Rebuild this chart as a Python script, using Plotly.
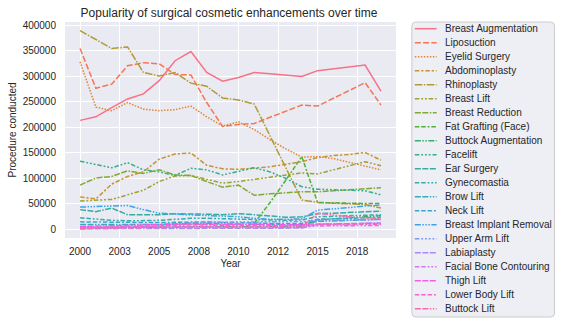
import math
import itertools
import plotly.graph_objects as go

# ---------------- data ----------------
years = list(range(2000, 2020))

procedures = [
    "Breast Augmentation", "Liposuction", "Eyelid Surgery", "Abdominoplasty",
    "Rhinoplasty", "Breast Lift", "Breast Reduction", "Fat Grafting (Face)",
    "Buttock Augmentation", "Facelift", "Ear Surgery", "Gynecomastia",
    "Brow Lift", "Neck Lift", "Breast Implant Removal", "Upper Arm Lift",
    "Labiaplasty", "Facial Bone Contouring", "Thigh Lift", "Lower Body Lift",
    "Buttock Lift",
]

breast_augmentation = [213000, 220000, 238000, 255000, 265000, 291000, 330000, 348000, 307000, 290000,
                       297000, 307000, 304500, 302000, 299000, 310500, 314000, 318000, 321500, 270500]
liposuction = [354000, 276000, 284000, 320000, 326000, 324000, 303000, 302000, 248000, 201000,
               205000, 207000, 219000, 231000, 243000, 241000, 256000, 271000, 287000, 243000]
eyelid_surgery = [328000, 239000, 232000, 248000, 235000, 232000, 234000, 241000, 220000, 202000,
                  210000, 195000, 175000, 157000, 141000, 142000, 138000, 131000, 124000, 116000]
abdominoplasty = [63000, 59000, 88000, 103000, 112000, 137000, 147000, 149000, 125000, 118000,
                  117000, 119000, 122000, 127000, 132000, 140000, 144000, 146000, 150000, 135000]
rhinoplasty = [389000, 372000, 354000, 357000, 307000, 300000, 307000, 286000, 280000, 257000,
               253000, 245000, 183000, 120000, 57000, 52000, 51000, 50000, 48000, 41000]
breast_lift = [55000, 57000, 58000, 67000, 76000, 93000, 104000, 105000, 97000, 90000,
               93000, 97000, 101000, 106000, 110000, 108000, 116000, 124000, 132000, 124000]
breast_reduction = [86000, 100000, 103000, 114000, 109000, 116000, 106000, 105000, 93000, 82000,
                    86000, 66000, 69000, 71000, 73000, 73000, 75000, 77000, 80000, 81000]
fat_grafting_face = [None, None, None, None, None, None, None, None, None, None,
                     None, 11000, 52000, 96000, 142000, 52000, 51000, 51000, 50000, 50000]
buttock_augmentation = [2000, 2500, 3000, 3500, 4000, 4000, 4500, 4500, 4000, 4000,
                        4000, 4000, 4500, 5000, 5500, 18000, 20000, 22000, 24000, 26000]
facelift = [133000, 127000, 120000, 130000, 116000, 112000, 105000, 119000, 116000, 106000,
            113000, 120000, 112000, 99000, 83000, 78000, 77000, 76000, 75000, 67000]
ear_surgery = [38000, 34000, 41000, 28000, 28000, 28000, 30000, 30000, 29000, 28000,
               30000, 28000, 25000, 23000, 24000, 30000, 31000, 32000, 34000, 35000]
gynecomastia = [22000, 19000, 17000, 16000, 16000, 17000, 19000, 21000, 21000, 20000,
                20000, 19000, 18000, 17000, 18000, 24000, 25000, 26000, 27000, 28000]
brow_lift = [9000, 9000, 8500, 8000, 8000, 9000, 10000, 11000, 11000, 10000,
             10000, 9500, 9000, 8500, 8500, 15000, 16000, 17000, 18000, 19000]
neck_lift = [14000, 13500, 13000, 12500, 12000, 12500, 13000, 14000, 14000, 13000,
             13000, 12000, 11000, 11000, 11000, 19000, 20000, 21000, 22000, 23000]
breast_implant_removal = [43000, 44000, 45000, 46000, 38000, 31000, 29000, 28000, 27000, 26000,
                          24000, 21000, 19000, 19000, 20000, 37000, 39000, 42000, 45000, 47000]
upper_arm_lift = [300, 1000, 2000, 3000, 4500, 6000, 9000, 12000, 13000, 13500,
                  14000, 14500, 14500, 14500, 14500, 17000, 17500, 18000, 18000, 18500]
labiaplasty = [500, 500, 600, 700, 800, 900, 1000, 1100, 1200, 1300,
               1400, 1500, 1600, 1700, 1800, 9000, 10000, 11000, 11500, 12000]
facial_bone_contouring = [4500, 4500, 4500, 4500, 4500, 5000, 5000, 5000, 5000, 4500,
                          4500, 4500, 4500, 4000, 4000, 6000, 6000, 6500, 6500, 7000]
thigh_lift = [5000, 5500, 6000, 6500, 7000, 8500, 9500, 10000, 9500, 9000,
              8500, 8500, 8500, 8500, 8500, 10000, 10000, 10500, 10500, 11000]
lower_body_lift = [2000, 2500, 3000, 3500, 4500, 6000, 7000, 8000, 7500, 7000,
                   6500, 6500, 6500, 6500, 6500, 8500, 9000, 9000, 9500, 9500]
buttock_lift = [1000, 1200, 1500, 2000, 2500, 3000, 3500, 4000, 4000, 3500,
                3500, 3500, 3500, 3500, 3500, 31000, 27000, 24000, 22000, 21000]

series_values = [
    breast_augmentation, liposuction, eyelid_surgery, abdominoplasty, rhinoplasty,
    breast_lift, breast_reduction, fat_grafting_face, buttock_augmentation, facelift,
    ear_surgery, gynecomastia, brow_lift, neck_lift, breast_implant_removal,
    upper_arm_lift, labiaplasty, facial_bone_contouring, thigh_lift, lower_body_lift,
    buttock_lift,
]

x_tick_vals = [2000, 2002.5, 2005, 2007.5, 2010, 2012.5, 2015, 2017.5]
x_tick_text = ["2000", "2003", "2005", "2008", "2010", "2012", "2015", "2018"]
y_tick_vals = [0, 50000, 100000, 150000, 200000, 250000, 300000, 350000, 400000]
y_tick_text = [str(v) for v in y_tick_vals]

# ---------------- style helpers (seaborn husl palette + dashes) ----------------
_M = [[3.2406, -1.5372, -0.4986], [-0.9689, 1.8758, 0.0415], [0.0557, -0.2040, 1.0570]]
_refU, _refV = 0.19784, 0.46834


def _max_chroma(L, H):
    hrad = math.radians(H)
    sinH, cosH = math.sin(hrad), math.cos(hrad)
    sub1 = math.pow(L + 16, 3.0) / 1560896.0
    sub2 = sub1 if sub1 > 0.008856 else (L / 903.3)
    result = float("inf")
    for m1, m2, m3 in _M:
        top = (0.99915 * m1 + 1.05122 * m2 + 1.14460 * m3) * sub2
        rbottom = 0.86330 * m3 - 0.17266 * m2
        lbottom = 0.12949 * m3 - 0.38848 * m1
        bottom = (rbottom * sinH + lbottom * cosH) * sub2
        for t in (0.0, 1.0):
            C = L * (top - 1.05122 * t) / (bottom + 0.17266 * sinH * t)
            if 0.0 < C < result:
                result = C
    return result


def _husl_to_rgb(h, s, l):
    C = _max_chroma(l, h) / 100.0 * s
    U = C * math.cos(math.radians(h))
    V = C * math.sin(math.radians(h))
    t = (l + 16.0) / 116.0
    Y = t ** 3 if t ** 3 > 0.008856 else (116.0 * t - 16.0) / 903.3
    varU = U / (13.0 * l) + _refU
    varV = V / (13.0 * l) + _refV
    X = 0.0 - (9.0 * Y * varU) / ((varU - 4.0) * varV - varU * varV)
    Z = (9.0 * Y - (15.0 * varV * Y) - (varV * X)) / (3.0 * varV)
    out = []
    for row in _M:
        c = row[0] * X + row[1] * Y + row[2] * Z
        c = 12.92 * c if c <= 0.0031308 else 1.055 * math.pow(c, 1 / 2.4) - 0.055
        out.append(min(max(c, 0.0), 1.0))
    return "rgb(%d,%d,%d)" % tuple(round(v * 255) for v in out)


def husl_palette(n, h=.01, s=.9, l=.65):
    cols = []
    for i in range(n):
        hue = ((i / n + h) % 1) * 359
        cols.append(_husl_to_rgb(hue, s * 99, l * 99))
    return cols


def unique_dashes(n):
    dashes = ["", (4, 1.5), (1, 1), (3, 1.25, 1.5, 1.25), (5, 1, 1, 1)]
    p = 3
    while len(dashes) < n:
        a = itertools.combinations_with_replacement([3, 1.25], p)
        b = itertools.combinations_with_replacement([4, 1], p)
        seg_list = itertools.chain(*zip(list(a)[1:-1][::-1], list(b)[1:-1]))
        for segs in seg_list:
            gap = min(segs)
            dashes.append(tuple(itertools.chain(*((sg, gap) for sg in segs))))
        p += 1
    return dashes[:n]


LW = 1.5


def dash_string(d):
    if d == "":
        return "solid"
    return ",".join("%gpx" % (v * LW) for v in d)


colors = husl_palette(len(procedures))
dashes = [dash_string(d) for d in unique_dashes(len(procedures))]

TEXT = "#262626"
FONT = "Arial, Liberation Sans, sans-serif"

# ---------------- figure ----------------
fig = go.Figure()
for name, vals, col, dsh in zip(procedures, series_values, colors, dashes):
    fig.add_trace(go.Scatter(x=years, y=vals, mode="lines", name=name,
                             line=dict(color=col, width=LW, dash=dsh),
                             showlegend=False))

W, H = 562, 325
L_, R_, T_, B_ = 62, 396, 22, 238


def px_x(px):
    return (px - L_) / (R_ - L_)


def px_y(py):
    return (B_ - py) / (B_ - T_)


# manual legend (matplotlib-style compact legend box)
bx0, bx1, by0, by1, rad = 412, 556, 22, 317, 4
rx = rad / (R_ - L_)
ry = rad / (B_ - T_)
x0, x1, y0, y1 = px_x(bx0), px_x(bx1), px_y(by1), px_y(by0)
path = (f"M {x0 + rx},{y0} L {x1 - rx},{y0} Q {x1},{y0} {x1},{y0 + ry} "
        f"L {x1},{y1 - ry} Q {x1},{y1} {x1 - rx},{y1} L {x0 + rx},{y1} "
        f"Q {x0},{y1} {x0},{y1 - ry} L {x0},{y0 + ry} Q {x0},{y0} {x0 + rx},{y0} Z")
shapes = [dict(type="path", xref="paper", yref="paper", path=path,
               fillcolor="rgba(234,234,242,0.8)", line=dict(color="#cccccc", width=1),
               layer="above")]
annotations = []
for i, (name, col, dsh) in enumerate(zip(procedures, colors, dashes)):
    yy = px_y(28.7 + 14.0 * i)
    shapes.append(dict(type="line", xref="paper", yref="paper",
                       x0=px_x(415), x1=px_x(437), y0=yy, y1=yy,
                       line=dict(color=col, width=LW, dash=dsh), layer="above"))
    annotations.append(dict(text=name, xref="paper", yref="paper", x=px_x(443), y=yy,
                            xanchor="left", yanchor="middle", showarrow=False,
                            font=dict(size=10, color=TEXT, family=FONT)))

fig.update_layout(
    width=W, height=H,
    margin=dict(l=L_, r=W - R_, t=T_, b=H - B_, pad=0),
    paper_bgcolor="white", plot_bgcolor="#EAEAF2",
    font=dict(family=FONT, size=10, color=TEXT),
    title=dict(text="Popularity of surgical cosmetic enhancements over time",
               x=px_x((L_ + R_) / 2) * (R_ - L_) / W + L_ / W, xanchor="center",
               y=1 - 12.5 / H, yanchor="middle", yref="container",
               font=dict(size=12, color=TEXT, family=FONT)),
    showlegend=False,
    shapes=shapes, annotations=annotations,
)
fig.update_xaxes(range=[1999.05, 2019.95], tickvals=x_tick_vals, ticktext=x_tick_text,
                 showgrid=True, gridcolor="white", gridwidth=1, zeroline=False,
                 showline=False, ticks="outside", ticklen=4, tickcolor="rgba(0,0,0,0)",
                 tickfont=dict(size=10, color=TEXT),
                 title=dict(text="Year", font=dict(size=10, color=TEXT), standoff=3))
fig.update_yaxes(range=[-17650, 405900], tickvals=y_tick_vals, ticktext=y_tick_text,
                 showgrid=True, gridcolor="white", gridwidth=1, zeroline=False,
                 showline=False, ticks="outside", ticklen=6, tickcolor="rgba(0,0,0,0)",
                 tickfont=dict(size=10, color=TEXT),
                 title=dict(text="Procedure conducted", font=dict(size=10, color=TEXT), standoff=4))

fig.write_html("out.html")
